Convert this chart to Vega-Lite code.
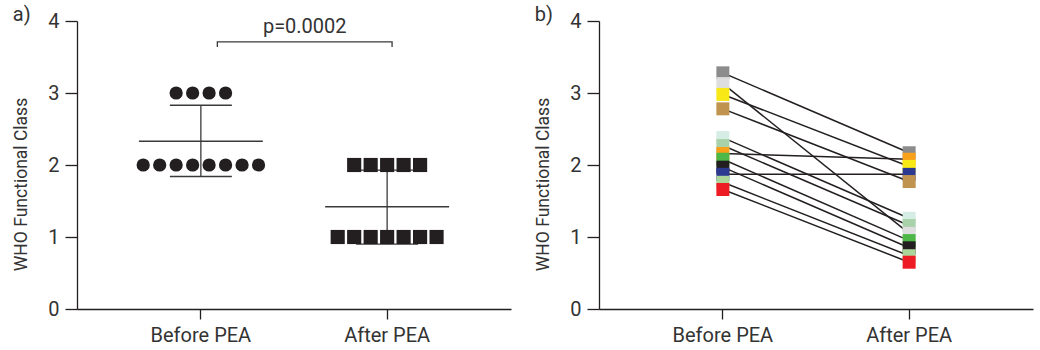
{
  "$schema": "https://vega.github.io/schema/vega-lite/v6.json",
  "background": "white",
  "padding": {"left": 12, "top": 5, "right": 5, "bottom": 0},
  "spacing": 23,
  "config": {
    "font": "Roboto",
    "view": {"stroke": null},
    "axis": {
      "domainColor": "#231f20", "tickColor": "#231f20", "labelColor": "#333333", "titleColor": "#333333",
      "labelFont": "Roboto", "titleFont": "Roboto", "labelFontSize": 20, "titleFontSize": 17.5,
      "titleFontWeight": "normal", "grid": false, "domainWidth": 1.3, "tickWidth": 1.3
    },
    "title": {"fontSize": 20, "fontWeight": "normal", "color": "#333333", "anchor": "start", "frame": "bounds", "font": "Roboto"}
  },
  "datasets": {
    "scatter": [
      {"group": "Before PEA", "who": 3, "slot": -1.5},
      {"group": "Before PEA", "who": 3, "slot": -0.5},
      {"group": "Before PEA", "who": 3, "slot": 0.5},
      {"group": "Before PEA", "who": 3, "slot": 1.5},
      {"group": "Before PEA", "who": 2, "slot": -3.5},
      {"group": "Before PEA", "who": 2, "slot": -2.5},
      {"group": "Before PEA", "who": 2, "slot": -1.5},
      {"group": "Before PEA", "who": 2, "slot": -0.5},
      {"group": "Before PEA", "who": 2, "slot": 0.5},
      {"group": "Before PEA", "who": 2, "slot": 1.5},
      {"group": "Before PEA", "who": 2, "slot": 2.5},
      {"group": "Before PEA", "who": 2, "slot": 3.5},
      {"group": "After PEA", "who": 2, "slot": -2},
      {"group": "After PEA", "who": 2, "slot": -1},
      {"group": "After PEA", "who": 2, "slot": 0},
      {"group": "After PEA", "who": 2, "slot": 1},
      {"group": "After PEA", "who": 2, "slot": 2},
      {"group": "After PEA", "who": 1, "slot": -3},
      {"group": "After PEA", "who": 1, "slot": -2},
      {"group": "After PEA", "who": 1, "slot": -1},
      {"group": "After PEA", "who": 1, "slot": 0},
      {"group": "After PEA", "who": 1, "slot": 1},
      {"group": "After PEA", "who": 1, "slot": 2},
      {"group": "After PEA", "who": 1, "slot": 3}
    ],
    "stats": [
      {"group": "Before PEA", "seg": "bmean", "slot": -3.76, "who": 2.33, "ord": 1},
      {"group": "Before PEA", "seg": "bmean", "slot": 3.76, "who": 2.33, "ord": 2},
      {"group": "Before PEA", "seg": "bhi", "slot": -1.88, "who": 2.83, "ord": 1},
      {"group": "Before PEA", "seg": "bhi", "slot": 1.88, "who": 2.83, "ord": 2},
      {"group": "Before PEA", "seg": "blo", "slot": -1.88, "who": 1.84, "ord": 1},
      {"group": "Before PEA", "seg": "blo", "slot": 1.88, "who": 1.84, "ord": 2},
      {"group": "Before PEA", "seg": "bvert", "slot": 0, "who": 1.84, "ord": 1},
      {"group": "Before PEA", "seg": "bvert", "slot": 0, "who": 2.83, "ord": 2},
      {"group": "After PEA", "seg": "amean", "slot": -3.76, "who": 1.42, "ord": 1},
      {"group": "After PEA", "seg": "amean", "slot": 3.76, "who": 1.42, "ord": 2},
      {"group": "After PEA", "seg": "ahi", "slot": -1.88, "who": 1.93, "ord": 1},
      {"group": "After PEA", "seg": "ahi", "slot": 1.88, "who": 1.93, "ord": 2},
      {"group": "After PEA", "seg": "alo", "slot": -1.88, "who": 0.9, "ord": 1},
      {"group": "After PEA", "seg": "alo", "slot": 1.88, "who": 0.9, "ord": 2},
      {"group": "After PEA", "seg": "avert", "slot": 0, "who": 0.9, "ord": 1},
      {"group": "After PEA", "seg": "avert", "slot": 0, "who": 1.93, "ord": 2}
    ],
    "bracket": [
      {"group": "Before PEA", "slot": 1.0, "who": 3.64, "ord": 1},
      {"group": "Before PEA", "slot": 1.0, "who": 3.71, "ord": 2},
      {"group": "After PEA", "slot": 0.3, "who": 3.71, "ord": 3},
      {"group": "After PEA", "slot": 0.3, "who": 3.64, "ord": 4}
    ],
    "ptext": [
      {"group": "After PEA", "slot": -5.0, "who": 3.92, "label": "p=0.0002"}
    ],
    "paired": [
      {"patient": "P1", "group": "Before PEA", "who": 3.28},
      {"patient": "P2", "group": "Before PEA", "who": 3.13},
      {"patient": "P3", "group": "Before PEA", "who": 2.98},
      {"patient": "P4", "group": "Before PEA", "who": 2.78},
      {"patient": "P5", "group": "Before PEA", "who": 2.38},
      {"patient": "P6", "group": "Before PEA", "who": 2.27},
      {"patient": "P7", "group": "Before PEA", "who": 2.16},
      {"patient": "P8", "group": "Before PEA", "who": 2.08},
      {"patient": "P9", "group": "Before PEA", "who": 1.97},
      {"patient": "P10", "group": "Before PEA", "who": 1.87},
      {"patient": "P11", "group": "Before PEA", "who": 1.76},
      {"patient": "P12", "group": "Before PEA", "who": 1.66},
      {"patient": "P1", "group": "After PEA", "who": 2.17},
      {"patient": "P7", "group": "After PEA", "who": 2.08},
      {"patient": "P3", "group": "After PEA", "who": 1.98},
      {"patient": "P10", "group": "After PEA", "who": 1.87},
      {"patient": "P4", "group": "After PEA", "who": 1.77},
      {"patient": "P5", "group": "After PEA", "who": 1.26},
      {"patient": "P6", "group": "After PEA", "who": 1.16},
      {"patient": "P2", "group": "After PEA", "who": 1.05},
      {"patient": "P8", "group": "After PEA", "who": 0.95},
      {"patient": "P9", "group": "After PEA", "who": 0.85},
      {"patient": "P11", "group": "After PEA", "who": 0.74},
      {"patient": "P12", "group": "After PEA", "who": 0.65}
    ]
  },
  "hconcat": [
    {
      "title": {"text": "a)", "offset": -14},
      "width": 434,
      "height": 288,
      "encoding": {
        "x": {
          "field": "group", "type": "nominal", "sort": ["Before PEA", "After PEA"],
          "scale": {"type": "band", "domain": ["Before PEA", "After PEA"], "paddingInner": 0.31, "paddingOuter": 0.32},
          "axis": {"title": null, "labelAngle": 0, "tickSize": 10, "labelPadding": 6}
        },
        "y": {
          "field": "who", "type": "quantitative",
          "scale": {"domain": [0, 4], "nice": false},
          "axis": {"title": "WHO Functional Class", "values": [0, 1, 2, 3, 4], "tickSize": 12, "labelPadding": 6, "titlePadding": 17, "titleY": 163}
        },
        "xOffset": {"field": "slot", "type": "quantitative", "scale": {"domain": [-3.9, 3.9]}}
      },
      "layer": [
        {
          "data": {"name": "stats"},
          "mark": {"type": "line", "color": "#3a3a3a", "strokeWidth": 1.3},
          "encoding": {"detail": {"field": "seg"}, "order": {"field": "ord"}}
        },
        {
          "data": {"name": "scatter"},
          "transform": [{"filter": "datum.group === 'Before PEA'"}],
          "mark": {"type": "point", "shape": "circle", "filled": true, "size": 175, "color": "#231f20", "opacity": 1}
        },
        {
          "data": {"name": "scatter"},
          "transform": [{"filter": "datum.group === 'After PEA'"}],
          "mark": {"type": "point", "shape": "square", "filled": true, "size": 200, "color": "#231f20", "opacity": 1}
        },
        {
          "data": {"name": "bracket"},
          "mark": {"type": "line", "color": "#3a3a3a", "strokeWidth": 1.3},
          "encoding": {"order": {"field": "ord"}}
        },
        {
          "data": {"name": "ptext"},
          "mark": {"type": "text", "fontSize": 20, "color": "#333333", "font": "Roboto"},
          "encoding": {"text": {"field": "label"}}
        }
      ]
    },
    {
      "title": {"text": "b)", "offset": -14},
      "width": 434,
      "height": 288,
      "data": {"name": "paired"},
      "encoding": {
        "x": {
          "field": "group", "type": "nominal", "sort": ["Before PEA", "After PEA"],
          "scale": {"type": "band", "domain": ["Before PEA", "After PEA"], "paddingInner": 0.31, "paddingOuter": 0.32},
          "axis": {"title": null, "labelAngle": 0, "tickSize": 10, "labelPadding": 6}
        },
        "y": {
          "field": "who", "type": "quantitative",
          "scale": {"domain": [0, 4], "nice": false},
          "axis": {"title": "WHO Functional Class", "values": [0, 1, 2, 3, 4], "tickSize": 12, "labelPadding": 6, "titlePadding": 17, "titleY": 163}
        }
      },
      "layer": [
        {
          "mark": {"type": "line", "color": "#231f20", "strokeWidth": 1.5},
          "encoding": {"detail": {"field": "patient"}}
        },
        {
          "mark": {"type": "point", "shape": "square", "filled": true, "size": 169, "opacity": 1},
          "encoding": {
            "color": {
              "field": "patient", "type": "nominal", "legend": null,
              "scale": {
                "domain": ["P1", "P2", "P3", "P4", "P5", "P6", "P7", "P8", "P9", "P10", "P11", "P12"],
                "range": ["#8c8c8c", "#dedede", "#f7e816", "#c0944f", "#d6ede6", "#a9d2ab", "#f9a11b", "#4db848", "#231f20", "#2b3990", "#acd59a", "#ed1c24"]
              }
            }
          }
        }
      ]
    }
  ]
}
